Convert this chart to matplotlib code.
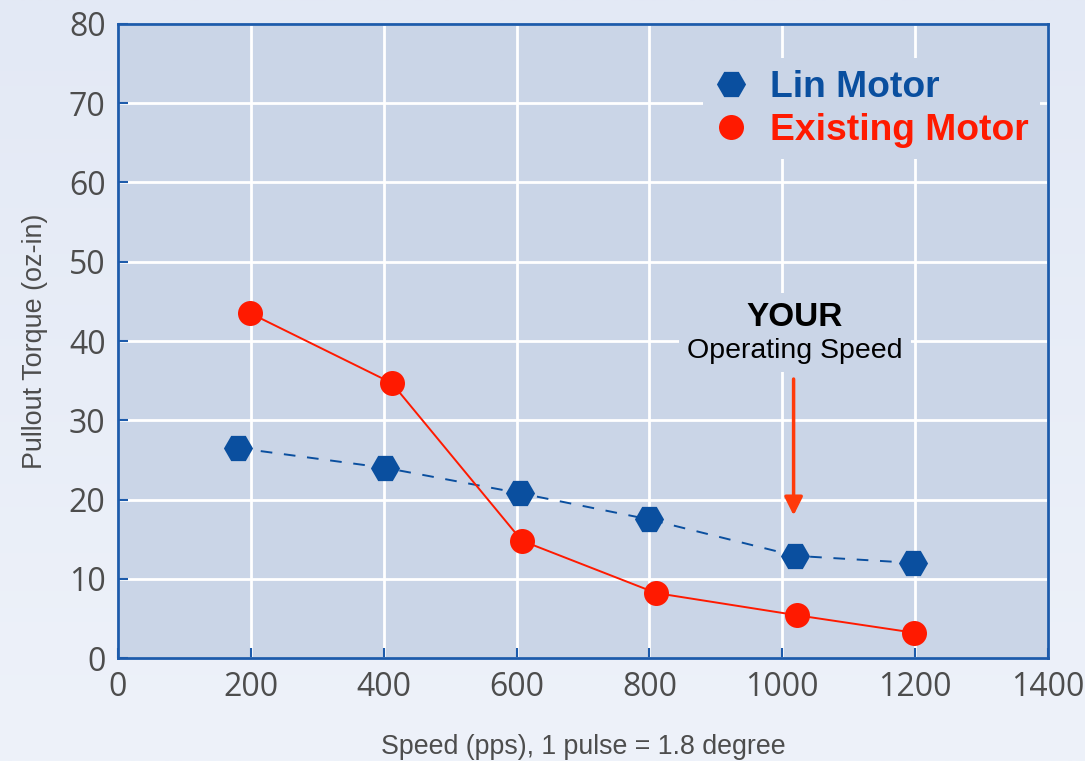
import numpy as np
import matplotlib
matplotlib.use("Agg")
import matplotlib.pyplot as plt
from matplotlib.lines import Line2D
from matplotlib.colors import LinearSegmentedColormap

# ---- data ----
lin_speed = [180, 402, 605, 799, 1019, 1197]
lin_torque = [26.5, 24.0, 20.8, 17.5, 12.9, 12.0]
ex_speed = [199, 412, 608, 810, 1022, 1198]
ex_torque = [43.5, 34.7, 14.8, 8.2, 5.4, 3.2]
x_ticks = [0, 200, 400, 600, 800, 1000, 1200, 1400]
y_ticks = [0, 10, 20, 30, 40, 50, 60, 70, 80]
series_names = ["Lin Motor", "Existing Motor"]
operating_speed = 1017
arrow_top, arrow_bottom = 35.2, 18.0

BLUE = "#0a4f9f"
RED = "#ff1a00"
AX_BG = "#cad5e7"
TICK_C = "#4d4d4d"

fig = plt.figure(figsize=(10.85, 7.61), dpi=100)

# background gradient
bg = fig.add_axes([0, 0, 1, 1], zorder=-10)
grad = np.linspace(0, 1, 256).reshape(-1, 1)
cm = LinearSegmentedColormap.from_list("bg", ["#e3e9f5", "#eef2fa"])
bg.imshow(grad, aspect="auto", cmap=cm, extent=[0, 1, 0, 1])
bg.axis("off")

ax = fig.add_axes([0.1088, 0.1353, 0.8571, 0.8332])
ax.set_facecolor(AX_BG)
ax.set_xlim(0, 1400)
ax.set_ylim(0, 80)
ax.set_xticks(x_ticks)
ax.set_yticks(y_ticks)
ax.grid(True, color="white", linewidth=2.0)
ax.set_axisbelow(True)
for s in ax.spines.values():
    s.set_color("#1d5bab")
    s.set_linewidth(2.0)
ax.tick_params(direction="in", length=7, width=1.5, color="#1d5bab",
               labelsize=23, labelcolor=TICK_C, pad=9)
for lab in ax.get_xticklabels() + ax.get_yticklabels():
    lab.set_family(["Open Sans", "DejaVu Sans"])

ax.plot(lin_speed, lin_torque, color=BLUE, linestyle=(0, (6, 6)), linewidth=1.4,
        marker="H", markersize=21, markerfacecolor=BLUE, markeredgecolor=BLUE,
        markeredgewidth=0, zorder=3)
ax.plot(ex_speed, ex_torque, color=RED, linestyle="-", linewidth=1.4,
        marker="o", markersize=18, markerfacecolor=RED, markeredgecolor=RED,
        markeredgewidth=0, zorder=4)

ax.set_xlabel("Speed (pps), 1 pulse = 1.8 degree", fontsize=19.3, color=TICK_C,
              family=["Liberation Sans", "DejaVu Sans"], labelpad=22)
ax.set_ylabel("Pullout Torque (oz-in)", fontsize=19.4, color=TICK_C,
              family=["Liberation Sans", "DejaVu Sans"], labelpad=15)

# legend
handles = [
    Line2D([], [], linestyle="none", marker="H", markersize=21, color=BLUE, markeredgewidth=0),
    Line2D([], [], linestyle="none", marker="o", markersize=18, color=RED, markeredgewidth=0),
]
leg = ax.legend(handles, series_names, loc="upper left", bbox_to_anchor=(0.609, 0.975),
                frameon=True, facecolor=AX_BG, edgecolor="none", framealpha=1,
                fancybox=False, handlelength=0.9, handletextpad=0.6,
                labelspacing=0.22, borderpad=0.3,
                prop={"family": ["Liberation Sans", "DejaVu Sans"], "weight": "bold", "size": 26.8})
for txt, c in zip(leg.get_texts(), [BLUE, RED]):
    txt.set_color(c)

# annotation
ax.text(operating_speed + 2, 43.0, "YOUR", ha="center", va="center", fontsize=24,
        fontweight="bold", family=["Liberation Sans", "DejaVu Sans"], color="black",
        bbox=dict(facecolor=AX_BG, edgecolor="none", pad=6), zorder=5)
ax.text(operating_speed + 2, 38.75, "Operating Speed", ha="center", va="center", fontsize=20.5,
        family=["Liberation Sans", "DejaVu Sans"], color="black",
        bbox=dict(facecolor=AX_BG, edgecolor="none", pad=6), zorder=5)
ax.annotate("", xy=(operating_speed, arrow_bottom), xytext=(operating_speed, arrow_top),
            arrowprops=dict(arrowstyle="-|>,head_length=1.1,head_width=0.55",
                            color="#ff3a0a", linewidth=2.5, shrinkA=0, shrinkB=0),
            zorder=5)

fig.savefig("out.png", dpi=100)
